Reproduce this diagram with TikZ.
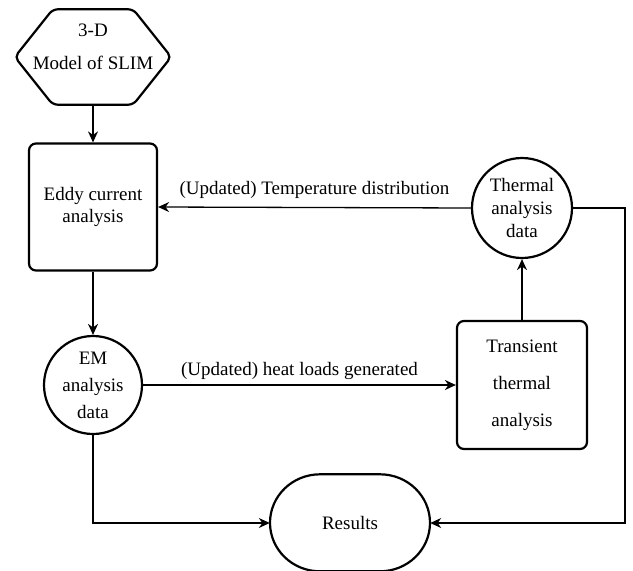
\documentclass[tikz,border=0pt]{standalone}
\usepackage{fontspec}
\setmainfont{Liberation Serif}
\newfontfamily\refserif{Liberation Serif}
\usetikzlibrary{arrows.meta,calc}
\begin{document}
\begin{tikzpicture}[x=1pt,y=-1pt,
  font=\refserif\fontsize{19}{22}\selectfont,
  shapeline/.style={draw=black,line width=2.2pt},
  rectbox/.style={shapeline,rounded corners=7pt,minimum width=128pt,minimum height=127pt,inner sep=0pt,align=center},
  circbox/.style={shapeline,circle,minimum size=98pt,inner sep=0pt,align=center},
  conn/.style={line width=1.3pt,-{Stealth[length=11pt,width=10pt]}},
  lbl/.style={inner sep=2pt}]
\useasboundingbox (0,0) rectangle (633,571);
% hexagon
\node[minimum width=156pt,minimum height=95pt,inner sep=0pt] (hex) at (93,57) {};
\draw[shapeline,rounded corners=5pt] (hex.west) -- ($(hex.north west)+(38,0)$) -- ($(hex.north east)+(-38,0)$) -- (hex.east) -- ($(hex.south east)+(-38,0)$) -- ($(hex.south west)+(38,0)$) -- cycle;
\node[align=center,inner sep=0pt] (hextext) at (93,47) {3-D\\[11pt]Model of SLIM};
% boxes
\node[rectbox] (eddy) at (93,207) {Eddy current\\analysis};
\node[circbox] (em) at (93,385) {EM\\[5pt]analysis\\[5pt]data};
\node[rectbox,minimum width=130pt,minimum height=128pt] (trans) at (522,385) {Transient\\[15pt]thermal\\[15pt]analysis};
\node[circbox,minimum size=100pt] (therm) at (522,208) {Thermal\\[1pt]analysis\\[1pt]data};
% results (stadium with elliptical ends)
\node[minimum width=160pt,minimum height=97pt,inner sep=0pt] (res) at (350,523) {Results};
\draw[shapeline] ($(res.north)+(-30,0)$) arc[start angle=90,end angle=270,x radius=50pt,y radius=48.5pt] -- ++(60,0) arc[start angle=-90,end angle=90,x radius=50pt,y radius=48.5pt] -- cycle;
\coordinate (rb) at (625,523);
% connectors
\draw[conn] (hex.south) -- (eddy.north);
\draw[conn] (eddy.south) -- (em.north);
\draw[conn] (em.east) -- node[lbl,above=3pt] {(Updated) heat loads generated} (trans.west);
\draw[conn] (trans.north) -- (therm.south);
\draw[conn] (therm.west) -- node[lbl,above=6pt] {(Updated) Temperature distribution} (eddy.east);
\draw[conn] (therm.east) -| (rb) -- (res.east);
\draw[conn] (em.south) |- (res.west);
\end{tikzpicture}
\end{document}
